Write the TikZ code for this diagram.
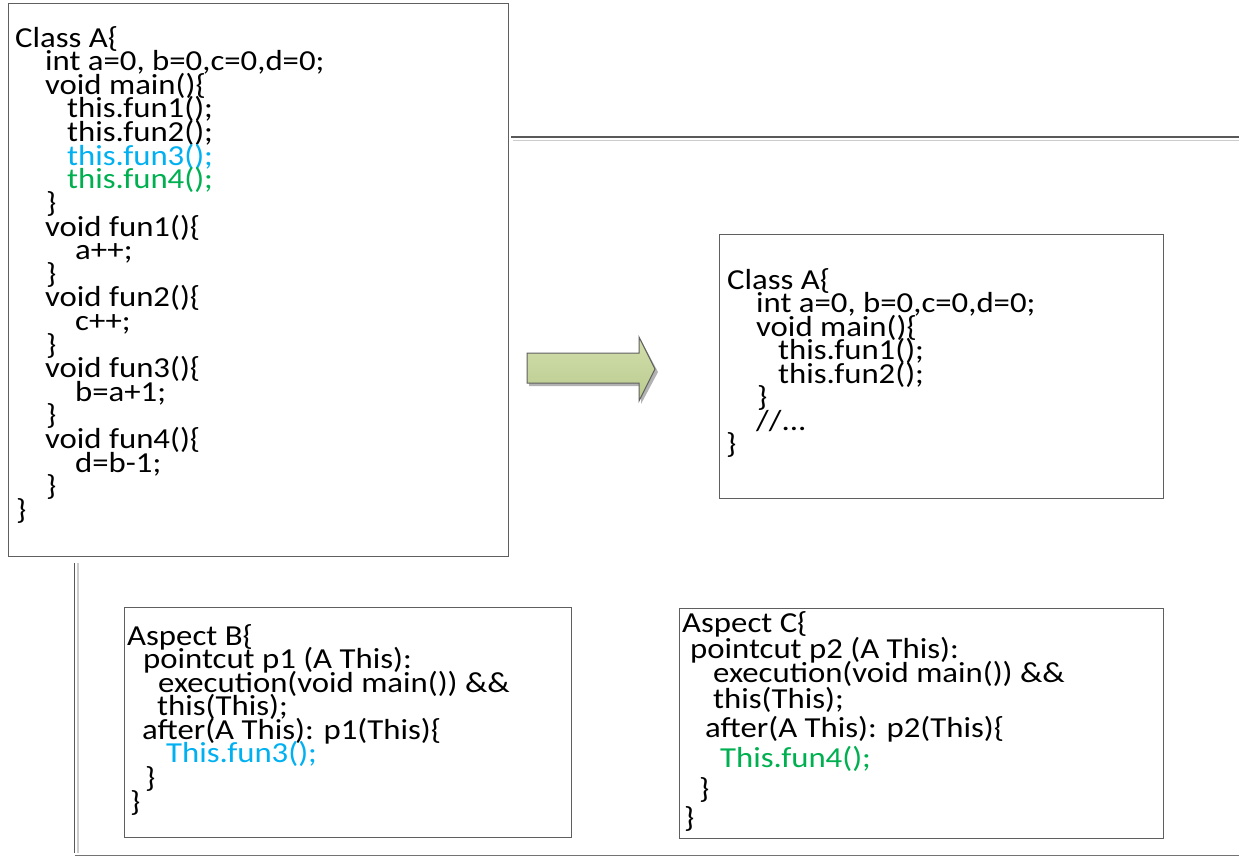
\documentclass[tikz,border=0pt]{standalone}
\usepackage{fontspec}
\setmainfont{Carlito}[FakeStretch=1.13]
\definecolor{funblue}{HTML}{00B0F0}
\definecolor{fungreen}{HTML}{00B050}
\definecolor{framegray}{HTML}{5F5F5F}
\definecolor{arrowtop}{HTML}{D2DEAC}
\definecolor{arrowbot}{HTML}{BACB8E}
\tikzset{
  codebox/.style={draw=framegray, line width=1pt},
  code/.style={anchor=base west, inner sep=0pt, font=\fontsize{29}{29}\selectfont},
  fthree/.style={text=funblue},
  ffour/.style={text=fungreen},
  darkrule/.style={draw=black!65, line width=1.3pt},
  lightrule/.style={draw=black!20, line width=1.3pt},
}
\newcommand\cl[5][]{\node[code,#1] (#2) at (#3,#4) {#5};}
\begin{document}
\begin{tikzpicture}[x=1pt,y=-1pt]
\useasboundingbox (0,0) rectangle (1239,860);
% page rules
\draw[darkrule] (511,137) -- (1239,137);
\draw[lightrule] (513,140.5) -- (1239,140.5);
\draw[darkrule] (74.5,563) -- (74.5,853);
\draw[lightrule] (78,563) -- (78,853);
\draw[draw=black!55, line width=1.3pt] (75,855.5) -- (1239,855.5);
% boxes
\draw[codebox] (8,3) rectangle (508,556);
\draw[codebox] (719,234) rectangle (1163,498);
\draw[codebox] (124,607) rectangle (571,837);
\draw[codebox] (679,608) rectangle (1163,838);
% block arrow
\fill[black!30] (529,356) -- (641,356) -- (641,340) -- (658,372) -- (641,404) -- (641,386) -- (529,386) -- cycle;
\draw[draw=framegray, line width=1pt, top color=arrowtop, bottom color=arrowbot]
  (527,353) -- (639,353) -- (639,337) -- (655,369) -- (639,401) -- (639,383) -- (527,383) -- cycle;
% Class A (original)
\cl{a1}{15}{47}{Class A\{}
\cl{a2}{45}{70.6}{int a=0, b=0,c=0,d=0;}
\cl{a3}{45}{94.2}{void main()\{}
\cl{a4}{67}{117.9}{this.fun1();}
\cl{a5}{67}{141.5}{this.fun2();}
\cl[fthree]{a6}{67}{165.1}{this.fun3();}
\cl[ffour]{a7}{67}{188.7}{this.fun4();}
\cl{a8}{46}{212.3}{\}}
\cl{a9}{45}{236}{void fun1()\{}
\cl{a10}{75}{259.6}{a++;}
\cl{a11}{46}{283.2}{\}}
\cl{a12}{45}{306.8}{void fun2()\{}
\cl{a13}{75}{330.4}{c++;}
\cl{a14}{46}{354.1}{\}}
\cl{a15}{45}{377.7}{void fun3()\{}
\cl{a16}{75}{401.3}{b=a+1;}
\cl{a17}{46}{424.9}{\}}
\cl{a18}{45}{448.5}{void fun4()\{}
\cl{a19}{75}{472.2}{d=b-1;}
\cl{a20}{46}{495.8}{\}}
\cl{a21}{16}{519.4}{\}}
% Class A (woven)
\cl{r1}{727}{289}{Class A\{}
\cl{r2}{756}{312.5}{int a=0, b=0,c=0,d=0;}
\cl{r3}{756}{336}{void main()\{}
\cl{r4}{778}{359.5}{this.fun1();}
\cl{r5}{778}{383}{this.fun2();}
\cl{r6}{757}{406.5}{\}}
\cl{r7}{756}{430}{//...}
\cl{r8}{726}{453.5}{\}}
% Aspect B
\cl{b1}{127}{645}{Aspect B\{}
\cl{b2}{143}{668.5}{pointcut p1 (A This):}
\cl{b3}{158}{692}{execution(void main()) \&\&}
\cl{b4}{157}{715.5}{this(This);}
\cl{b5}{142}{739}{after(A This): p1(This)\{}
\cl[fthree]{b6}{166}{762.5}{This.fun3();}
\cl{b7}{145}{787}{\}}
\cl{b8}{130}{811}{\}}
% Aspect C
\cl{c1}{682}{632}{Aspect C\{}
\cl{c2}{690}{658}{pointcut p2 (A This):}
\cl{c3}{713}{682}{execution(void main()) \&\&}
\cl{c4}{713}{708}{this(This);}
\cl{c5}{705}{737}{after(A This): p2(This)\{}
\cl[ffour]{c6}{720}{767}{This.fun4();}
\cl{c7}{699}{798}{\}}
\cl{c8}{684}{827}{\}}
\end{tikzpicture}
\end{document}
